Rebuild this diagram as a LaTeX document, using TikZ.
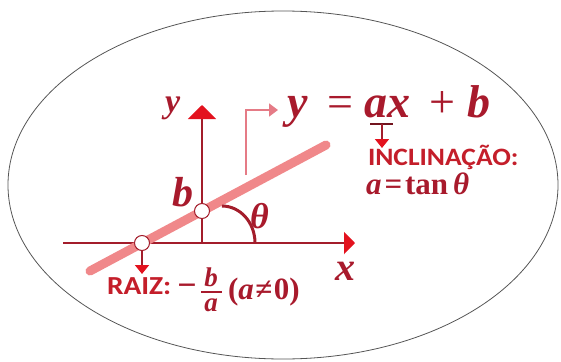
\documentclass[tikz,border=0pt]{standalone}
\usepackage{fontspec}
\setmainfont{Liberation Serif}
\newfontfamily\calib{Carlito}
\usetikzlibrary{arrows.meta,shapes.geometric}
\definecolor{axisred}{HTML}{A31D2B}
\definecolor{textred}{HTML}{A81A2C}
\definecolor{brightred}{HTML}{C41E2A}
\definecolor{headred}{HTML}{E3121E}
\definecolor{linepink}{HTML}{F0888A}
\definecolor{bentpink}{HTML}{E57B86}
\definecolor{ellgrey}{HTML}{555555}
\newcommand{\mbi}[1]{\textbf{\textit{#1}}}
\begin{document}
\begin{tikzpicture}[x=1pt,y=-1pt,
  lbl/.style={inner sep=0pt,outer sep=0pt,text=textred,anchor=base west},
  axisline/.style={draw=axisred,line width=2.2pt},
  pt/.style={circle,draw=axisred,line width=1pt,fill=white,minimum size=15pt,inner sep=0pt},
  smallarrow/.style={draw=axisred,line width=1.8pt,-{Triangle[length=9pt,width=14pt,color=headred]}}
]
\useasboundingbox (0,0) rectangle (561,361);
% ellipse frame
\node[draw=ellgrey,line width=0.8pt,ellipse,minimum width=550pt,minimum height=348pt,inner sep=0pt] (frame) at (283,185) {};
% coordinates
\coordinate (O) at (202,243);
\coordinate (xs) at (63,243);
\coordinate (xt) at (355,243);
\coordinate (yt) at (202,105);
\coordinate (llo) at (90,271);
\coordinate (lhi) at (326,145);
% axes
\draw[axisline,-{Triangle[length=11pt,width=22pt,color=headred]}] (xs) -- (xt);
\draw[axisline,-{Triangle[length=14pt,width=28pt,color=headred]}] (O) -- (yt);
% thick line
\draw[linepink,line width=9pt,line cap=round] (llo) -- (lhi);
% angle arc
\draw[axisred,line width=3pt] (255,243) arc[start angle=0,end angle=90,x radius=33pt,y radius=37pt];
% points
\node[pt] (root) at (142,243) {};
\node[pt] (bint) at (202,211) {};
% bent arrow
\coordinate (bs) at (246,175);
\coordinate (be) at (278,110);
\draw[bentpink,line width=1.8pt,-{Triangle[length=9pt,width=13pt]}] (bs) |- (be);
% root arrow
\coordinate (rt) at (142,274);
\draw[smallarrow] (root) -- (rt);
% labels
\node[lbl,font=\fontsize{34}{34}\selectfont] (ylab) at (165,112) {\mbi{y}};
\node[lbl,font=\fontsize{42}{42}\selectfont] (blab) at (172,206) {\mbi{b}};
\node[lbl,font=\fontsize{36}{36}\selectfont] (tlab) at (250,228) {\mbi{θ}};
\node[lbl,font=\fontsize{40}{40}\selectfont] (xlab) at (335,280) {\mbi{x}};
% equation
\node[lbl,font=\fontsize{46}{46}\selectfont] (eqy) at (287,117) {\mbi{y}};
\node[lbl,font=\fontsize{46}{46}\selectfont] (eqeq) at (327,117) {=};
\node[lbl,font=\fontsize{46}{46}\selectfont] (eqa) at (364,117) {\mbi{a}};
\node[lbl,font=\fontsize{46}{46}\selectfont] (eqx) at (387,117) {\mbi{x}};
\node[lbl,font=\fontsize{46}{46}\selectfont] (eqp) at (429,117) {+};
\node[lbl,font=\fontsize{46}{46}\selectfont] (eqb) at (467,117) {\mbi{b}};
% underline of a with arrow
\coordinate (ul1) at (370,124);
\coordinate (ul2) at (393,124);
\coordinate (um) at (382,124);
\coordinate (ut) at (382,148);
\draw[draw=axisred!70!black,line width=1.8pt] (ul1) -- (ul2);
\draw[smallarrow] (um) -- (ut);
% inclinacao
\node[lbl,text=brightred,font=\fontsize{25}{25}\selectfont\calib\bfseries,text depth=2pt] (incl) at (368,165) {\scalebox{1.1}[1]{INCLINAÇÃO:}};
\node[lbl,font=\fontsize{31}{31}\selectfont\bfseries,text height=19pt] (tan) at (366,194) {\textit{a}\hspace{3pt}=\hspace{3pt}tan\hspace{5pt}\textit{θ}};
% raiz
\node[lbl,text=brightred,font=\fontsize{26}{26}\selectfont\calib\bfseries] (raiz) at (107,294) {\scalebox{1.13}[1]{RAIZ:}};
\node[inner sep=0pt,text=textred,font=\fontsize{34}{34}\selectfont\bfseries] (minus) at (187,290) {−};
\node[inner sep=0pt,text=textred,font=\fontsize{27}{27}\selectfont,anchor=base,text depth=0pt] (fb) at (211,286) {\mbi{b}};
\node[inner sep=0pt,text=textred,font=\fontsize{27}{27}\selectfont,anchor=base,text height=12pt] (fa) at (211,311) {\mbi{a}};
\coordinate (fb1) at (201,292);
\coordinate (fb2) at (222,292);
\draw[textred,line width=1.6pt] (fb1) -- (fb2);
\node[lbl,font=\fontsize{31}{31}\selectfont\bfseries] (cond) at (228,299) {(\textit{a}\hspace{1.5pt}≠\hspace{1.5pt}0)};
\end{tikzpicture}
\end{document}
